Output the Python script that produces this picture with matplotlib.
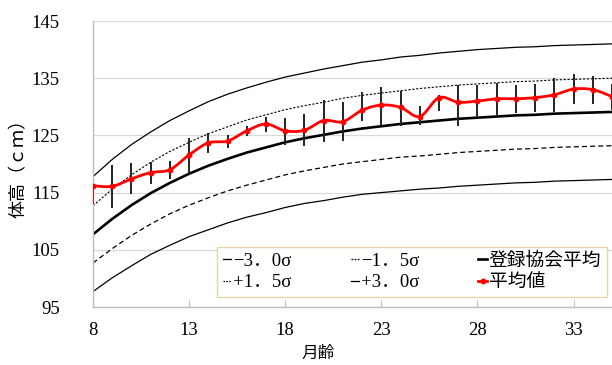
import numpy as np
import matplotlib
matplotlib.use("Agg")
import matplotlib.pyplot as plt
from matplotlib.lines import Line2D

plt.rcParams['font.family'] = ['Liberation Serif', 'Noto Sans CJK JP', 'DejaVu Sans']

# months (x axis)
months = list(range(8, 36))

# registry reference curves
ref_mean = [107.7, 110.4, 112.8, 114.9, 116.7, 118.3, 119.7, 120.9, 122.0, 122.9,
            123.8, 124.5, 125.1, 125.7, 126.2, 126.6, 127.0, 127.3, 127.6, 127.9,
            128.1, 128.3, 128.5, 128.6, 128.8, 128.9, 129.0, 129.1]
plus_3s = [117.8, 120.8, 123.4, 125.6, 127.6, 129.3, 130.9, 132.2, 133.3, 134.3,
           135.2, 135.9, 136.6, 137.2, 137.8, 138.2, 138.7, 139.0, 139.4, 139.7,
           140.0, 140.2, 140.4, 140.5, 140.7, 140.8, 140.9, 141.0]
plus_15s = [112.7, 115.6, 118.1, 120.3, 122.2, 123.8, 125.3, 126.5, 127.7, 128.6,
            129.5, 130.2, 130.8, 131.5, 132.0, 132.4, 132.8, 133.2, 133.5, 133.8,
            134.0, 134.2, 134.4, 134.5, 134.7, 134.8, 134.9, 135.0]
minus_15s = [102.7, 105.2, 107.5, 109.5, 111.3, 112.8, 114.1, 115.3, 116.3, 117.2,
             118.1, 118.8, 119.4, 120.0, 120.4, 120.8, 121.2, 121.4, 121.7, 122.0,
             122.2, 122.4, 122.6, 122.7, 122.9, 123.0, 123.1, 123.2]
minus_3s = [97.7, 100.1, 102.2, 104.2, 105.8, 107.3, 108.5, 109.7, 110.7, 111.5,
            112.4, 113.1, 113.6, 114.2, 114.7, 115.0, 115.3, 115.6, 115.8, 116.1,
            116.3, 116.5, 116.7, 116.8, 117.0, 117.1, 117.2, 117.3]

# measured averages with ranges
avg = [116.2, 116.1, 117.4, 118.5, 119.0, 121.6, 123.7, 124.0, 125.8, 127.0,
       125.8, 125.9, 127.6, 127.4, 129.4, 130.3, 129.9, 128.3, 131.6, 130.8,
       131.0, 131.4, 131.4, 131.6, 132.1, 133.1, 133.0, 131.8]
low = [113.0, 112.3, 114.8, 116.5, 117.3, 118.3, 121.9, 122.8, 124.9, 125.6,
       123.3, 123.1, 123.8, 124.0, 127.6, 126.9, 126.6, 126.9, 129.2, 126.6,
       128.0, 128.5, 128.9, 129.1, 129.1, 130.5, 130.5, 129.5]
high = [116.2, 119.9, 120.1, 120.4, 120.6, 124.5, 125.4, 125.1, 126.7, 128.3,
        128.1, 128.8, 131.2, 130.8, 132.6, 133.5, 132.8, 130.1, 132.0, 133.8,
        133.8, 134.1, 133.8, 134.0, 135.1, 135.7, 135.3, 134.0]

x_ticks = [8, 13, 18, 23, 28, 33]
y_ticks = [95, 105, 115, 125, 135, 145]


def smooth(x, y, n=12):
    # catmull-rom style curve through the points (like excel's smoothed line)
    x = np.asarray(x, float)
    y = np.asarray(y, float)
    px = np.concatenate([[x[0]], x, [x[-1]]])
    py = np.concatenate([[y[0]], y, [y[-1]]])
    xs, ys = [], []
    t = np.linspace(0, 1, n, endpoint=False)
    for i in range(1, len(px) - 2):
        p0, p1, p2, p3 = py[i - 1], py[i], py[i + 1], py[i + 2]
        q0, q1, q2, q3 = px[i - 1], px[i], px[i + 1], px[i + 2]
        for a, b, c, d, out in ((q0, q1, q2, q3, xs), (p0, p1, p2, p3, ys)):
            out.extend(0.5 * (2 * b + (-a + c) * t + (2 * a - 5 * b + 4 * c - d) * t ** 2
                              + (-a + 3 * b - 3 * c + d) * t ** 3))
    xs.append(x[-1])
    ys.append(y[-1])
    return np.array(xs), np.array(ys)


fig = plt.figure(figsize=(6.12, 3.65), dpi=100)
ax = fig.add_axes([93 / 612, 1 - 307 / 365, 1 - 93 / 612, 286 / 365])

ax.plot(months, minus_3s, color="black", lw=0.9)
ax.plot(months, minus_15s, color="black", lw=0.9, ls=(0, (4, 2.5)))
ax.plot(months, ref_mean, color="black", lw=1.9)
ax.plot(months, plus_15s, color="black", lw=0.8, ls=(0, (2, 1.5)))
ax.plot(months, plus_3s, color="black", lw=0.9)

# range bars (first one drawn in red, as in the original)
ax.vlines(months[1:], low[1:], high[1:], color="#222222", lw=1.4, zorder=3)
ax.vlines(months[:1], low[:1], high[:1], color="red", lw=1.4, zorder=3)

sx, sy = smooth(months, avg)
ax.plot(sx, sy, color="red", lw=2.0, zorder=4)
ax.plot(months, avg, ls="none", marker="o", ms=3.2, color="red", zorder=5)

ax.set_xlim(8, 35)
ax.set_ylim(95, 145)
ax.set_xticks(x_ticks)
ax.set_yticks(y_ticks)
ax.tick_params(axis="y", length=0, pad=24, labelsize=13.5)
ax.tick_params(axis="x", direction="in", length=5, color="#bfbfbf", pad=11, labelsize=13.5)

ax.grid(axis="y", color="#d9d9d9", lw=0.9)
ax.set_axisbelow(True)
for s in ("top", "right"):
    ax.spines[s].set_visible(False)
for s in ("left", "bottom"):
    ax.spines[s].set_color("#bfbfbf")
    ax.spines[s].set_linewidth(1.0)

ax.set_ylabel("体高（ｃｍ）", fontsize=13, family=["Noto Sans CJK JP"])
ax.yaxis.set_label_coords(-0.125, 0.5)
ax.set_xlabel("月齢", fontsize=12, family=["Noto Sans CJK JP"])
ax.xaxis.set_label_coords(0.434, -0.132)

handles = [
    Line2D([], [], color="black", lw=0.9),
    Line2D([], [], color="black", lw=0.8, ls=(0, (1.5, 1))),
    Line2D([], [], color="black", lw=0.9, ls=(0, (1.5, 1))),
    Line2D([], [], color="black", lw=0.9),
    Line2D([], [], color="black", lw=1.9),
    Line2D([], [], color="red", lw=2.0, marker="o", ms=3.2),
]
labels = ["−3．0σ", "+1．5σ", "−1．5σ", "+3．0σ", "登録協会平均", "平均値"]
leg = ax.legend(handles, labels, ncol=3, loc="lower left",
                bbox_to_anchor=(0.239, 0.035, 0.751, 0.185), mode="expand",
                fancybox=False, framealpha=1, edgecolor="#e3d6a8",
                handlelength=0.45, handletextpad=0.1, borderpad=0.3,
                labelspacing=0.25, fontsize=13.5, borderaxespad=0)
leg.get_frame().set_linewidth(1.0)

fig.savefig("out.png", dpi=100)
